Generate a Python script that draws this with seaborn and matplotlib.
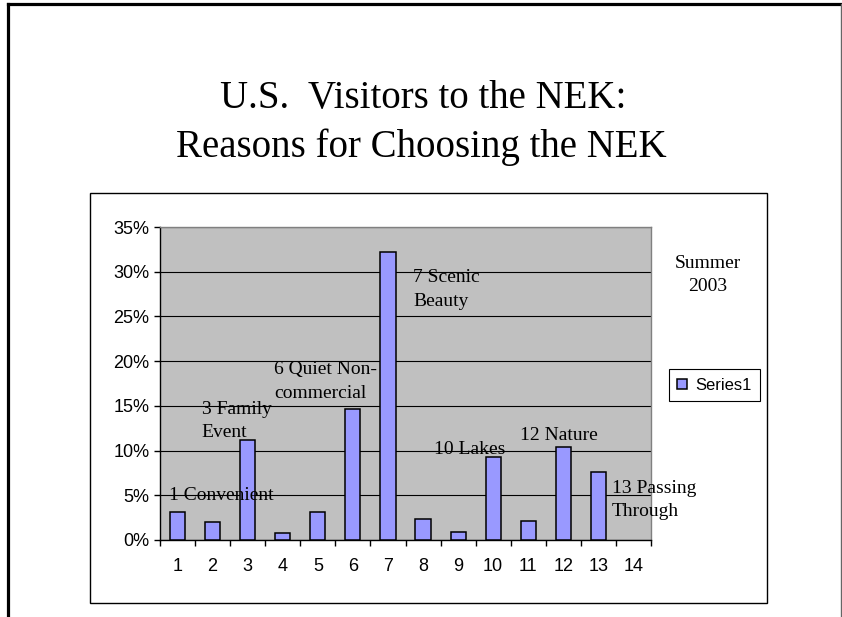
import seaborn as sns
import numpy as np
import matplotlib.pyplot as plt
from matplotlib.patches import Patch, Rectangle
from matplotlib.lines import Line2D
from matplotlib.ticker import FixedLocator

# reason codes 1..14 and share of U.S. visitors (%)
reasons = [str(i) for i in range(1, 15)]
shares = [3.1, 2.0, 11.2, 0.75, 3.1, 14.7, 32.2, 2.4, 0.95, 9.3, 2.15, 10.4, 7.6, 0.0]
yticks = [0, 5, 10, 15, 20, 25, 30, 35]
ytick_labels = ["0%", "5%", "10%", "15%", "20%", "25%", "30%", "35%"]

# text labels placed next to some bars: (text, x in category units, y in %)
bar_notes = [
    ("1 Convenient", -0.24, 5.0),
    ("3 Family\nEvent", 0.69, 13.3),
    ("6 Quiet Non-\ncommercial", 2.76, 17.7),
    ("7 Scenic\nBeauty", 6.72, 28.0),
    ("10 Lakes", 7.31, 10.1),
    ("12 Nature", 9.77, 11.7),
    ("13 Passing\nThrough", 12.38, 4.5),
]

title_lines = ["U.S.  Visitors to the NEK:", "Reasons for Choosing the NEK"]
season = "Summer\n2003"
series_name = "Series1"

serif = "Liberation Serif"
sans = "Liberation Sans"
bar_color = "#9999FF"

fig = plt.figure(figsize=(8.42, 6.17), dpi=100)
fig.patch.set_facecolor("white")
ax = fig.add_axes([160/842, 77/617, 491/842, 313/617])

sns.barplot(x=reasons, y=shares, color=bar_color, edgecolor="black",
            linewidth=1.1, width=0.43, saturation=1, ax=ax, zorder=3)
# no visible outline for an empty bar
for bar, v in zip(ax.patches, shares):
    if v == 0:
        bar.set_linewidth(0)

ax.set_facecolor("#C0C0C0")
ax.set_xlim(-0.5, len(reasons) - 0.5)
ax.set_ylim(0, 35)
ax.set_yticks(yticks)
ax.set_yticklabels(ytick_labels, fontfamily=sans, fontsize=13)
ax.set_xticks(range(len(reasons)))
ax.set_xticklabels(reasons, fontfamily=sans, fontsize=13)
ax.set_xlabel("")
ax.set_ylabel("")
ax.xaxis.set_minor_locator(FixedLocator(np.arange(-0.5, len(reasons), 1.0)))
ax.tick_params(axis="x", which="major", length=0, pad=13)
ax.tick_params(axis="x", which="minor", length=4.5, width=1, direction="out", color="black")
ax.tick_params(axis="y", length=4.5, width=1, direction="out", pad=3, color="black")
ax.grid(axis="y", color="black", linewidth=0.8)
ax.set_axisbelow(True)
for side in ["top", "right"]:
    ax.spines[side].set_color("#808080")
    ax.spines[side].set_linewidth(1.0)
for side in ["left", "bottom"]:
    ax.spines[side].set_color("black")
    ax.spines[side].set_linewidth(1.0)

for text, x, y in bar_notes:
    ax.text(x, y, text, fontfamily=serif, fontsize=14, ha="left", va="center",
            linespacing=1.5, zorder=5, clip_on=False)

# titles
fig.text(0.503, 0.825, title_lines[0], fontfamily=serif, fontsize=28,
         ha="center", va="baseline")
fig.text(0.5, 0.746, title_lines[1], fontfamily=serif, fontsize=28,
         ha="center", va="baseline")
fig.text(708/842, 1 - 275/617, season, fontfamily=serif, fontsize=14,
         ha="center", va="center", linespacing=1.5)

handles = [Patch(facecolor=bar_color, edgecolor="black", linewidth=1.1, label=series_name)]
leg = ax.legend(handles=handles, loc="lower left",
                bbox_to_anchor=(669/842, 1 - 401/617), bbox_transform=fig.transFigure,
                borderaxespad=0, fancybox=False, edgecolor="black", framealpha=1,
                prop={"family": sans, "size": 12}, handlelength=0.6, handleheight=0.6,
                handletextpad=0.5, borderpad=0.5)
leg.get_frame().set_linewidth(0.8)

# chart border and slide frame
fig.add_artist(Rectangle((90/842, 14/617), 677/842, 410/617, transform=fig.transFigure,
                         fill=False, edgecolor="black", linewidth=1.0, zorder=-1))
fig.add_artist(Line2D([7.8/842, 7.8/842], [0, 1 - 4.3/617], transform=fig.transFigure,
                      color="black", linewidth=2.3))
fig.add_artist(Line2D([7.8/842, 841/842], [1 - 4.3/617, 1 - 4.3/617], transform=fig.transFigure,
                      color="black", linewidth=2.3))
fig.add_artist(Line2D([841/842, 841/842], [0, 1 - 4.3/617], transform=fig.transFigure,
                      color="#666666", linewidth=1.0))

fig.savefig("out.png", dpi=100)
